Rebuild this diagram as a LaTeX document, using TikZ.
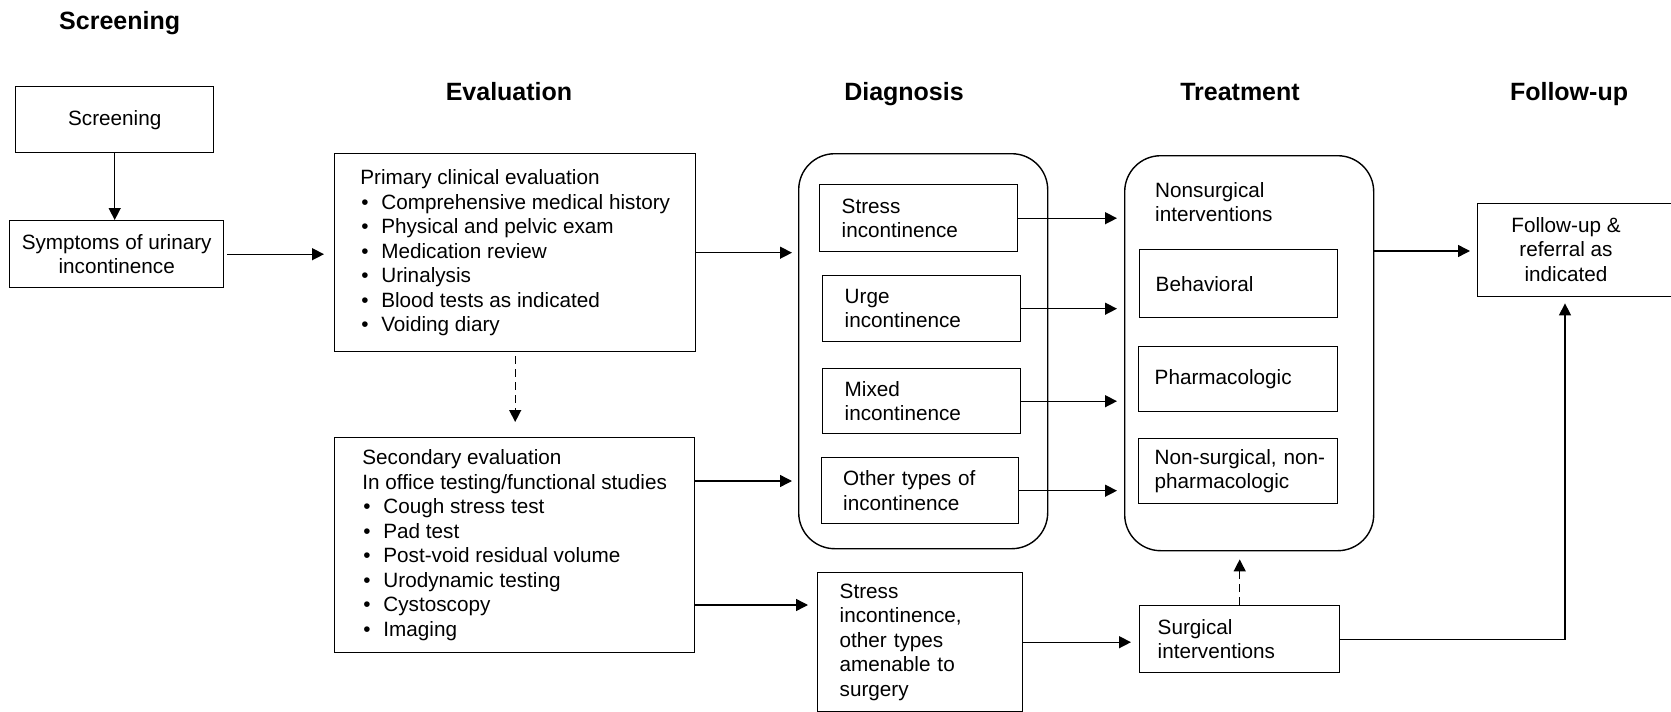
\documentclass[tikz,border=0pt]{standalone}
\usepackage{fontspec}
\setmainfont{Liberation Sans}
\usetikzlibrary{arrows.meta}

\newcommand{\itm}{\makebox[21pt][l]{\hspace{1pt}\textbullet}}

\begin{document}
\begin{tikzpicture}[x=1pt,y=-1pt,
  every node/.style={font=\fontsize{20.7pt}{24.5pt}\selectfont, inner sep=0pt},
  head/.style={font=\fontsize{25pt}{30pt}\selectfont\bfseries, anchor=base},
  box/.style={draw, line width=1.4pt, anchor=north west},
  group/.style={box, rounded corners=36pt},
  arr/.style={line width=1.4pt, -{Triangle[length=12pt,width=12pt]}},
  dasharr/.style={arr, dash pattern=on 8pt off 5pt}]
\useasboundingbox (0,0) rectangle (1671,712);

\node[head, anchor=base west] (hscr) at (59,29) {Screening};
\node[head] (heval) at (509,100) {Evaluation};
\node[head] (hdiag) at (904,100) {Diagnosis};
\node[head] (htreat) at (1240,100) {Treatment};
\node[head] (hfollow) at (1569,100) {Follow-up};

\node[box, minimum width=198, minimum height=66] (scr) at (15,86) {Screening};
\node[box, minimum width=214, minimum height=67, align=center] (sym) at (9,220) {Symptoms of urinary\\incontinence};

\node[box, minimum width=361, minimum height=198, align=left] (prim) at (334,153) {Primary clinical evaluation\\\itm Comprehensive medical history\\\itm Physical and pelvic exam\\\itm Medication review\\\itm Urinalysis\\\itm Blood tests as indicated\\\itm Voiding diary};
\node[box, minimum width=360, minimum height=215, align=left] (sec) at (334,437) {Secondary evaluation\\In office testing/functional studies\\\itm Cough stress test\\\itm Pad test\\\itm Post-void residual volume\\\itm Urodynamic testing\\\itm Cystoscopy\\\itm Imaging};

\node[group, minimum width=249, minimum height=395] (diag) at (798,153) {};
\node[box, minimum width=198, minimum height=67, text width=154, align=left] (stress) at (819,184) {Stress\\incontinence};
\node[box, minimum width=198, minimum height=66, text width=154, align=left] (urge) at (822,275) {Urge\\incontinence};
\node[box, minimum width=198, minimum height=65, text width=154, align=left] (mixed) at (822,368) {Mixed\\incontinence};
\node[box, minimum width=197, minimum height=66, text width=154, align=left] (other) at (821,457) {Other types of\\incontinence};
\node[box, minimum width=205, minimum height=139, text width=161, align=left] (ssurg) at (817,572) {Stress\\incontinence,\\other types\\amenable to\\surgery};

\node[group, minimum width=249, minimum height=395] (treat) at (1124,155) {};
\node[align=left, anchor=west] (nonsurg) at (1155,202) {Nonsurgical\\interventions};
\node[box, minimum width=198, minimum height=68, text width=166, align=left] (behav) at (1139,249) {Behavioral};
\node[box, minimum width=199, minimum height=65, text width=167, align=left] (pharm) at (1138,346) {Pharmacologic};
\node[box, minimum width=199, minimum height=65, text width=167, align=left] (nonsp) at (1138,438) {\mbox{Non-surgical, non-}\\pharmacologic};
\node[box, minimum width=200, minimum height=67, text width=164, align=left] (surg) at (1139,605) {Surgical\\interventions};

\node[box, minimum width=240, minimum height=93] (fubox) at (1477,203) {};
\node[align=center] (futext) at (1566,249.5) {Follow-up \&\\referral as\\indicated};

\coordinate (secup) at ([yshift=-44pt]sec.north east);
\coordinate (seclow) at ([yshift=-168pt]sec.north east);
\coordinate (treatout) at ([yshift=-96pt]treat.north east);
\coordinate (fuin) at ([xshift=88pt]fubox.south west);

\draw[arr] (scr.south) -- (scr.south |- sym.north);
\draw[arr, shorten <=3pt, shorten >=10pt] (sym.east) -- (sym.east -| prim.west);
\draw[arr, shorten >=6pt] (prim.east) -- (prim.east -| diag.west);
\draw[dasharr, shorten <=4pt, shorten >=15pt] (prim.south) -- (prim.south |- sec.north);
\draw[arr, shorten >=6pt] (secup) -- (secup -| diag.west);
\draw[arr, shorten >=9pt] (seclow) -- (seclow -| ssurg.west);

\draw[arr, shorten >=7pt] (stress.east) -- (stress.east -| treat.west);
\draw[arr, shorten >=7pt] (urge.east) -- (urge.east -| treat.west);
\draw[arr, shorten >=7pt] (mixed.east) -- (mixed.east -| treat.west);
\draw[arr, shorten >=7pt] (other.east) -- (other.east -| treat.west);

\draw[arr, shorten >=7pt] (treatout) -- (treatout -| fubox.west);
\draw[arr, shorten >=8pt] (ssurg.east) -- (ssurg.east -| surg.west);
\draw[dasharr, shorten >=8pt] (surg.north) -- (surg.north |- treat.south);
\draw[arr, shorten >=6pt] (surg.east) -| (fuin);
\end{tikzpicture}
\end{document}
